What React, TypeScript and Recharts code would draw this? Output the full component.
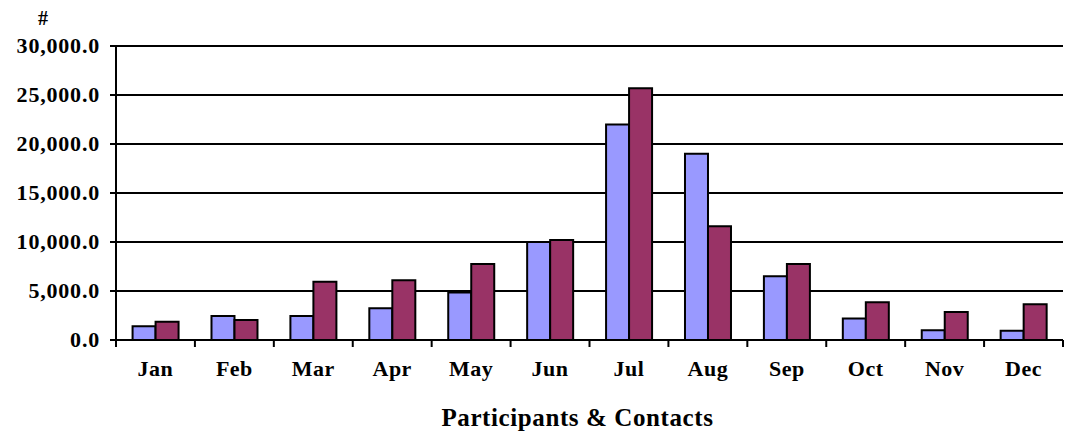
import { BarChart, Bar, XAxis, YAxis, CartesianGrid } from 'recharts';

const months = ['Jan', 'Feb', 'Mar', 'Apr', 'May', 'Jun', 'Jul', 'Aug', 'Sep', 'Oct', 'Nov', 'Dec'];
const participants = [1400, 2450, 2450, 3250, 4850, 10000, 22000, 19000, 6500, 2200, 1000, 950];
const contacts = [1850, 2050, 5950, 6100, 7750, 10200, 25700, 11600, 7750, 3850, 2850, 3650];
const yTicks = [0, 5000, 10000, 15000, 20000, 25000, 30000];

const data = months.map((m, i) => ({ month: m, participants: participants[i], contacts: contacts[i] }));

const WIDTH = 1068;
const HEIGHT = 435;
const MARGIN = { top: 46, right: 5, left: 0, bottom: 0 };
const Y_AXIS_W = 116;
const FONT = 'Liberation Serif, Times New Roman, serif';

const fmt = (v: number) =>
  v.toLocaleString('en-US', { minimumFractionDigits: 1, maximumFractionDigits: 1 });

function MonthTick(props: any) {
  const { x, y, payload, index } = props;
  const band = (WIDTH - MARGIN.left - MARGIN.right - Y_AXIS_W) / months.length;
  const top = y - 8;
  return (
    <g>
      <line x1={x - band / 2} x2={x - band / 2} y1={top} y2={top + 7} stroke="#000" strokeWidth={2} />
      {index === months.length - 1 && (
        <line x1={x + band / 2} x2={x + band / 2} y1={top} y2={top + 7} stroke="#000" strokeWidth={2} />
      )}
      <text
        x={x}
        y={y + 28}
        textAnchor="middle"
        fontFamily={FONT}
        fontWeight="bold"
        fontSize={22}
        letterSpacing={0.5}
        fill="#000"
      >
        {payload.value}
      </text>
    </g>
  );
}

function ValueTick(props: any) {
  const { x, y, payload } = props;
  return (
    <text
      x={x - 8}
      y={y + 7}
      textAnchor="end"
      fontFamily={FONT}
      fontWeight="bold"
      fontSize={22}
      letterSpacing={0.8}
      fill="#000"
    >
      {fmt(payload.value)}
    </text>
  );
}

export default function App() {
  return (
    <div style={{ position: 'absolute', left: 0, top: 0, width: WIDTH, height: HEIGHT, background: '#fff' }}>
      <div
        style={{
          position: 'absolute',
          left: 38,
          top: 7,
          fontFamily: FONT,
          fontWeight: 'bold',
          fontSize: 20,
          lineHeight: '22px',
        }}
      >
        #
      </div>
      <BarChart
        width={WIDTH}
        height={HEIGHT}
        data={data}
        margin={MARGIN}
        barCategoryGap="21%"
        barGap={0}
      >
        <CartesianGrid vertical={false} stroke="#000" strokeWidth={2} />
        <XAxis
          dataKey="month"
          height={95}
          axisLine={{ stroke: '#000', strokeWidth: 2 }}
          tickLine={false}
          tick={<MonthTick />}
          interval={0}
          label={{
            value: 'Participants & Contacts',
            position: 'insideBottom',
            offset: 9,
            dx: -12,
            style: {
              fontFamily: FONT,
              fontWeight: 'bold',
              fontSize: 25,
              letterSpacing: 0.6,
              fill: '#000',
            },
          }}
        />
        <YAxis
          width={Y_AXIS_W}
          domain={[0, 30000]}
          ticks={yTicks}
          interval={0}
          axisLine={{ stroke: '#000', strokeWidth: 2 }}
          tickLine={{ stroke: '#000', strokeWidth: 2 }}
          tickSize={6}
          tick={<ValueTick />}
        />
        <Bar dataKey="participants" fill="#9999FF" stroke="#000" strokeWidth={2} isAnimationActive={false} />
        <Bar dataKey="contacts" fill="#993366" stroke="#000" strokeWidth={2} isAnimationActive={false} />
      </BarChart>
    </div>
  );
}
